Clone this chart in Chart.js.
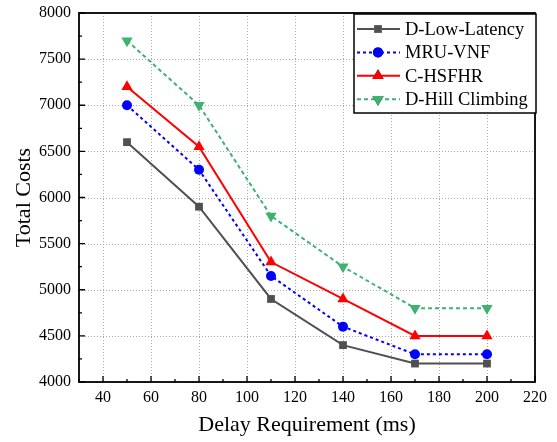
<!DOCTYPE html>
<html>
<head>
<meta charset="utf-8">
<script src="https://cdn.jsdelivr.net/npm/chart.js@4.4.0/dist/chart.umd.min.js"></script>
<style>
  html, body { margin: 0; padding: 0; background: #fff; }
  #wrap { width: 557px; height: 442px; }
</style>
</head>
<body>
<div id="wrap"><canvas id="myChart" width="557" height="442"></canvas></div>
<script>
// values
const delays = [50, 80, 110, 140, 170, 200];
const lowLatency = [6600, 5900, 4900, 4400, 4200, 4200];
const mruVnf = [7000, 6300, 5150, 4600, 4300, 4300];
const cHsfhr = [7200, 6550, 5300, 4900, 4500, 4500];
const hillClimbing = [7700, 7000, 5800, 5250, 4800, 4800];
const xTicks = [40, 60, 80, 100, 120, 140, 160, 180, 200, 220];
const yTicks = [4000, 4500, 5000, 5500, 6000, 6500, 7000, 7500, 8000];

const serif = "'Liberation Serif', 'Times New Roman', serif";

function pts(ys) {
    return delays.map((x, i) => ({ x: x, y: ys[i] }));
}

// dotted grid under the lines
const grid = {
    id: 'dotgrid',
    beforeDatasetsDraw(chart) {
        const ctx = chart.ctx;
        const a = chart.chartArea;
        const xs = chart.scales.x, ys = chart.scales.y;
        ctx.save();
        ctx.strokeStyle = '#a8a8a8';
        ctx.lineWidth = 1;
        ctx.setLineDash([1, 2]);
        ctx.beginPath();
        xTicks.forEach(v => {
            const px = Math.round(xs.getPixelForValue(v)) + 0.5;
            ctx.moveTo(px, a.top);
            ctx.lineTo(px, a.bottom);
        });
        yTicks.forEach(v => {
            const py = Math.round(ys.getPixelForValue(v)) + 0.5;
            ctx.moveTo(a.left, py);
            ctx.lineTo(a.right, py);
        });
        ctx.stroke();
        ctx.restore();
    }
};

// box round the plot + inward ticks + legend
const frame = {
    id: 'frame',
    afterDraw(chart) {
        const ctx = chart.ctx;
        const a = chart.chartArea;
        const xs = chart.scales.x, ys = chart.scales.y;
        ctx.save();
        ctx.strokeStyle = '#000';
        ctx.lineWidth = 1.8;
        ctx.strokeRect(a.left, a.top, a.right - a.left, a.bottom - a.top);
        ctx.lineWidth = 1.3;
        ctx.beginPath();
        for (let v = 30; v <= 220; v += 10) {
            const px = xs.getPixelForValue(v);
            const len = (v % 20 === 0) ? 6 : 3;
            ctx.moveTo(px, a.bottom);
            ctx.lineTo(px, a.bottom - len);
        }
        for (let v = 4000; v <= 8000; v += 250) {
            const py = ys.getPixelForValue(v);
            const len = (v % 500 === 0) ? 6 : 3;
            ctx.moveTo(a.left, py);
            ctx.lineTo(a.left + len, py);
        }
        ctx.stroke();

        // legend
        const lx = 354, ly = 14, lw = 182, lh = 99;
        ctx.fillStyle = '#fff';
        ctx.fillRect(lx, ly, lw, lh);
        ctx.lineWidth = 1.5;
        ctx.strokeRect(lx, ly, lw, lh);
        ctx.font = '18.5px ' + serif;
        ctx.textBaseline = 'middle';
        chart.data.datasets.forEach((ds, i) => {
            const y = ly + 15 + i * 23.4;
            ctx.save();
            ctx.strokeStyle = ds.borderColor;
            ctx.lineWidth = ds.borderWidth;
            ctx.setLineDash(ds.borderDash || []);
            ctx.beginPath();
            ctx.moveTo(lx + 3, y);
            ctx.lineTo(lx + 46, y);
            ctx.stroke();
            ctx.setLineDash([]);
            Chart.helpers.drawPoint(ctx, {
                pointStyle: ds.pointStyle,
                radius: ds.pointRadius,
                rotation: ds.pointRotation || 0,
                borderWidth: 0
            }, lx + 24, y);
            ctx.fillStyle = ds.pointBackgroundColor;
            ctx.fill();
            ctx.restore();
            ctx.fillStyle = '#000';
            ctx.fillText(ds.label, lx + 51, y + 1);
        });
        ctx.restore();
    }
};

function series(label, data, color, style, dash, radius, rotation) {
    return {
        label: label,
        data: pts(data),
        borderColor: color,
        backgroundColor: color,
        pointBackgroundColor: color,
        pointBorderColor: color,
        pointBorderWidth: 0,
        borderWidth: 2,
        borderDash: dash,
        pointStyle: style,
        pointRadius: radius,
        pointHoverRadius: radius,
        pointRotation: rotation,
        tension: 0
    };
}

const ctx = document.getElementById('myChart').getContext('2d');
const chart = new Chart(ctx, {
    type: 'line',
    data: {
        datasets: [
            series('D-Low-Latency', lowLatency, '#505050', 'rect', [], 5.5, 0),
            series('MRU-VNF', mruVnf, '#0000ff', 'circle', [3, 3], 5, 0),
            series('C-HSFHR', cHsfhr, '#ff0000', 'triangle', [], 6.5, 0),
            series('D-Hill Climbing', hillClimbing, '#3cb371', 'triangle', [4, 3], 6.5, 180)
        ]
    },
    plugins: [grid, frame],
    options: {
        responsive: false,
        animation: false,
        layout: { padding: { left: 0, top: 13, right: 22, bottom: 0 } },
        plugins: {
            legend: { display: false },
            tooltip: { enabled: false }
        },
        scales: {
            x: {
                type: 'linear',
                min: 30,
                max: 220,
                afterBuildTicks: (s) => { s.ticks = xTicks.map(v => ({ value: v })); },
                afterFit: (s) => { s.height = 60; s.paddingLeft = 0; s.paddingRight = 0; },
                grid: { display: false, drawTicks: false },
                border: { display: false },
                ticks: { color: '#000', font: { family: serif, size: 16 }, padding: 6, maxRotation: 0 },
                title: {
                    display: true,
                    text: 'Delay Requirement (ms)',
                    color: '#000',
                    font: { family: serif, size: 22 },
                    padding: { top: 4 }
                }
            },
            y: {
                min: 4000,
                max: 8000,
                afterBuildTicks: (s) => { s.ticks = yTicks.map(v => ({ value: v })); },
                afterFit: (s) => { s.width = 79; s.paddingTop = 0; s.paddingBottom = 0; },
                grid: { display: false, drawTicks: false },
                border: { display: false },
                ticks: {
                    color: '#000',
                    font: { family: serif, size: 16 },
                    padding: 8,
                    callback: (v) => String(v)
                },
                title: {
                    display: true,
                    text: 'Total Costs',
                    color: '#000',
                    font: { family: serif, size: 22 },
                    padding: { bottom: 0, top: 11 }
                }
            }
        }
    }
});
</script>
</body>
</html>
